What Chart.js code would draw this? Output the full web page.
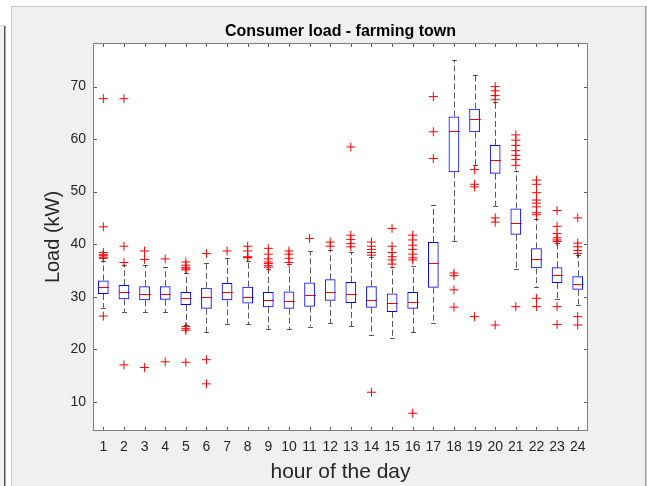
<!DOCTYPE html>
<html>
<head>
<meta charset="utf-8">
<script src="https://cdn.jsdelivr.net/npm/chart.js@4.4.1/dist/chart.umd.min.js"></script>
<style>
  html, body { margin: 0; padding: 0; background: #fff; }
  canvas { display: block; }
</style>
</head>
<body>
<canvas id="chart" width="647" height="486"></canvas>
<script>
const TITLE = 'Consumer load - farming town';
const HOURS = ['1','2','3','4','5','6','7','8','9','10','11','12','13','14','15','16','17','18','19','20','21','22','23','24'];

const WHISKER_LOW  = [27.9, 27.1, 27.1, 27.0, 24.6, 23.2, 24.8, 24.7, 23.8, 23.8, 24.3, 24.9, 24.4, 22.7, 22.1, 23.2, 24.9, 40.6, 55.0, 47.3, 35.2, 31.8, 29.6, 28.5];
const Q1           = [30.5, 29.5, 29.3, 29.4, 28.4, 27.7, 29.3, 28.7, 28.0, 27.7, 28.1, 29.2, 28.8, 27.9, 27.1, 27.7, 31.7, 53.7, 61.3, 53.4, 41.8, 35.4, 32.6, 31.3];
const MEDIAN       = [31.8, 30.9, 30.6, 30.6, 29.8, 29.9, 30.8, 30.0, 29.4, 29.1, 30.4, 30.8, 30.6, 29.3, 28.7, 28.9, 36.5, 61.5, 63.8, 56.1, 44.1, 37.2, 34.1, 32.5];
const Q3           = [33.1, 32.2, 32.0, 32.0, 30.9, 31.7, 32.6, 31.9, 30.9, 31.0, 32.7, 33.3, 32.8, 32.0, 30.6, 30.9, 40.4, 64.3, 65.8, 58.9, 46.8, 39.2, 35.6, 33.9];
const WHISKER_HIGH = [36.8, 36.1, 36.0, 35.6, 34.6, 36.5, 37.3, 36.8, 35.2, 36.2, 38.6, 38.9, 38.5, 37.5, 35.7, 35.9, 47.5, 75.1, 72.2, 67.0, 54.0, 44.8, 40.2, 38.0];

const OUTLIERS = [
  [26.3, 37.3, 37.5, 37.8, 38.0, 38.4, 43.3, 67.7],
  [17.0, 36.5, 39.6, 67.7],
  [16.5, 37.1, 38.7],
  [17.6, 37.2],
  [17.5, 23.6, 23.9, 24.3, 35.1, 35.3, 35.6, 36.0, 36.6],
  [13.4, 18.0, 38.2],
  [38.7],
  [37.4, 37.5, 37.6, 38.7, 39.6],
  [35.6, 35.9, 36.3, 36.6, 37.2, 38.1, 39.2],
  [36.5, 37.3, 38.1, 38.7],
  [41.1],
  [39.6, 40.4],
  [39.5, 40.1, 40.9, 41.7, 58.5],
  [11.8, 37.9, 38.4, 39.0, 39.6, 40.4],
  [36.2, 37.0, 37.6, 38.4, 39.6, 43.0],
  [7.8, 37.0, 37.4, 38.1, 39.0, 39.8, 40.8, 41.7],
  [56.3, 61.4, 68.1],
  [28.0, 31.3, 34.0, 34.5],
  [26.2, 50.9, 51.4, 54.2],
  [24.6, 44.2, 45.0, 67.5, 68.3, 69.2, 70.0],
  [28.1, 55.0, 56.1, 56.9, 57.8, 58.8, 59.8, 60.8],
  [28.1, 29.7, 45.6, 46.0, 47.1, 47.8, 48.4, 49.8, 51.4, 52.2],
  [24.7, 28.1, 40.5, 40.8, 41.2, 42.0, 43.4, 46.4],
  [24.6, 26.2, 38.2, 38.8, 39.5, 40.2, 45.0]
];

const Y_TICKS = [10, 20, 30, 40, 50, 60, 70];
const Y_MIN = 4.42;
const Y_MAX = 78.3;

const FONT = '"Liberation Sans", Arial, Helvetica, sans-serif';
const TEXT = '#262626';
const BOX_WIDTH = 0.52; // fraction of a category step

// figure window: grey panel, white plot area
const figurePlugin = {
  id: 'figure',
  beforeDraw(chart) {
    const { ctx, width, height, chartArea: a } = chart;
    ctx.save();
    ctx.fillStyle = '#ffffff';
    ctx.fillRect(0, 0, width, height);
    // edge of a neighbouring window on the left
    ctx.fillStyle = '#f0f0f0';
    ctx.fillRect(0, 26, 5, height - 26);
    ctx.fillStyle = '#d4d4d4';
    ctx.fillRect(0, 25, 5, 1);
    ctx.fillStyle = '#505050';
    ctx.fillRect(4, 26, 1.5, height - 26);
    // main figure panel
    ctx.fillStyle = '#f0f0f0';
    ctx.fillRect(11, 6, 635, height - 6);
    ctx.fillStyle = '#c8c8c8';
    ctx.fillRect(11, 6, 635, 1);
    ctx.fillRect(11, 6, 1, height - 6);
    ctx.fillStyle = '#9a9a9a';
    ctx.fillRect(645, 6, 1.5, height - 6);
    // axes background
    ctx.fillStyle = '#ffffff';
    ctx.fillRect(a.left, a.top, a.right - a.left, a.bottom - a.top);
    ctx.restore();
  }
};

// whiskers, caps and medians
const boxPlugin = {
  id: 'boxWhiskers',
  beforeDatasetsDraw(chart) {
    const { ctx, scales: { x, y } } = chart;
    const step = x.getPixelForValue(1) - x.getPixelForValue(0);
    const boxHalf = step * BOX_WIDTH / 2;
    const capHalf = step * 0.12;
    ctx.save();
    HOURS.forEach((h, i) => {
      const cx = Math.round(x.getPixelForValue(i)) + 0.5;
      const yLo = y.getPixelForValue(WHISKER_LOW[i]);
      const yQ1 = y.getPixelForValue(Q1[i]);
      const yQ3 = y.getPixelForValue(Q3[i]);
      const yHi = y.getPixelForValue(WHISKER_HIGH[i]);

      ctx.strokeStyle = 'rgba(0,0,0,0.65)';
      ctx.lineWidth = 1;
      ctx.setLineDash([6, 3]);
      ctx.beginPath();
      ctx.moveTo(cx, yQ3);
      ctx.lineTo(cx, yHi);
      ctx.moveTo(cx, yQ1);
      ctx.lineTo(cx, yLo);
      ctx.stroke();

      ctx.setLineDash([]);
      ctx.beginPath();
      ctx.moveTo(cx - capHalf, Math.round(yHi) + 0.5);
      ctx.lineTo(cx + capHalf, Math.round(yHi) + 0.5);
      ctx.moveTo(cx - capHalf, Math.round(yLo) + 0.5);
      ctx.lineTo(cx + capHalf, Math.round(yLo) + 0.5);
      ctx.stroke();

      const yMed = Math.round(y.getPixelForValue(MEDIAN[i])) + 0.5;
      ctx.strokeStyle = '#ff0000';
      ctx.beginPath();
      ctx.moveTo(cx - boxHalf, yMed);
      ctx.lineTo(cx + boxHalf, yMed);
      ctx.stroke();
    });
    ctx.restore();
  }
};

// box frame with inward ticks on all sides, and the title
const framePlugin = {
  id: 'frame',
  afterDraw(chart) {
    const { ctx, chartArea: a, scales: { x, y } } = chart;
    const tl = 4;
    ctx.save();
    ctx.strokeStyle = '#5e5e5e';
    ctx.lineWidth = 1;
    ctx.beginPath();
    HOURS.forEach((h, i) => {
      const px = Math.round(x.getPixelForValue(i)) + 0.5;
      ctx.moveTo(px, a.bottom);
      ctx.lineTo(px, a.bottom - tl);
      ctx.moveTo(px, a.top);
      ctx.lineTo(px, a.top + tl);
    });
    Y_TICKS.forEach(v => {
      const py = Math.round(y.getPixelForValue(v)) + 0.5;
      ctx.moveTo(a.left, py);
      ctx.lineTo(a.left + tl, py);
      ctx.moveTo(a.right, py);
      ctx.lineTo(a.right - tl, py);
    });
    ctx.stroke();
    ctx.strokeStyle = '#808080';
    ctx.strokeRect(Math.round(a.left) + 0.5, Math.round(a.top) + 0.5,
      Math.round(a.right - a.left) - 1, Math.round(a.bottom - a.top) - 1);

    ctx.fillStyle = '#000000';
    ctx.font = 'bold 16px ' + FONT;
    ctx.textAlign = 'center';
    ctx.textBaseline = 'alphabetic';
    ctx.fillText(TITLE, (a.left + a.right) / 2, 36);
    ctx.restore();
  }
};

new Chart(document.getElementById('chart'), {
  type: 'bar',
  plugins: [figurePlugin, boxPlugin, framePlugin],
  data: {
    labels: HOURS,
    datasets: [
      {
        type: 'bar',
        label: 'box',
        data: HOURS.map((h, i) => [Q1[i], Q3[i]]),
        backgroundColor: 'rgba(0,0,0,0)',
        borderColor: '#0000ff',
        borderWidth: 1,
        borderSkipped: false,
        barPercentage: BOX_WIDTH,
        categoryPercentage: 1,
        order: 2
      },
      {
        type: 'scatter',
        label: 'outliers',
        data: OUTLIERS.flatMap((vals, i) => vals.map(v => ({ x: HOURS[i], y: v }))),
        pointStyle: 'cross',
        pointRadius: 4.5,
        borderColor: '#ff0000',
        backgroundColor: '#ff0000',
        borderWidth: 1,
        order: 1
      }
    ]
  },
  options: {
    responsive: false,
    devicePixelRatio: 1,
    animation: false,
    layout: { padding: { top: 43, right: 59, left: 0, bottom: 0 } },
    plugins: {
      legend: { display: false },
      tooltip: { enabled: false },
      title: { display: false }
    },
    scales: {
      x: {
        type: 'category',
        offset: true,
        grid: { display: false, drawTicks: false },
        border: { display: false },
        ticks: {
          color: TEXT,
          font: { family: FONT, size: 14 },
          padding: 8,
          autoSkip: false,
          maxRotation: 0
        },
        title: {
          display: true,
          text: 'hour of the day',
          color: TEXT,
          font: { family: FONT, size: 21 },
          padding: { top: 0, bottom: 1 }
        },
        afterFit(scale) { scale.height = 55; }
      },
      y: {
        type: 'linear',
        min: Y_MIN,
        max: Y_MAX,
        grid: { display: false, drawTicks: false },
        border: { display: false },
        afterBuildTicks(scale) { scale.ticks = Y_TICKS.map(v => ({ value: v })); },
        ticks: {
          color: TEXT,
          font: { family: FONT, size: 14 },
          padding: 7
        },
        title: {
          display: true,
          text: 'Load (kW)',
          color: TEXT,
          font: { family: FONT, size: 20 },
          padding: { top: 41, bottom: 0 }
        },
        afterFit(scale) { scale.width = 93; }
      }
    }
  }
});
</script>
</body>
</html>
